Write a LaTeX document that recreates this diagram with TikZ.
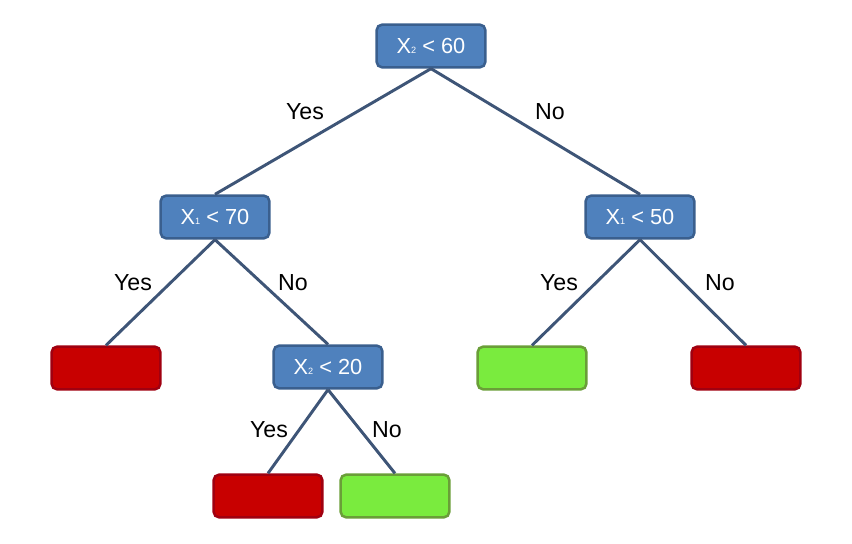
\documentclass[tikz,border=0pt]{standalone}
\usepackage{fontspec}
\setmainfont{Liberation Sans}
\usetikzlibrary{positioning}
\definecolor{kek}{HTML}{4F81BD}
\definecolor{kekkeret}{HTML}{3A5F8E}
\definecolor{piros}{HTML}{C80000}
\definecolor{piroskeret}{HTML}{A00010}
\definecolor{zold}{HTML}{7AEB3E}
\definecolor{zoldkeret}{HTML}{6A9E38}
\definecolor{vonal}{HTML}{3E5577}
\newcommand{\valt}[1]{X{\fontsize{6.5}{6.5}\selectfont\raisebox{-0.4pt}{#1}}}
\tikzset{
  doboz/.style={rounded corners=4pt,line width=1.8pt,minimum width=2.72cm,minimum height=1.07cm,inner sep=0pt},
  kerdes/.style={doboz,draw=kekkeret,fill=kek,text=white,font=\fontsize{15.5}{17}\selectfont},
  piroslap/.style={doboz,draw=piroskeret,fill=piros},
  zoldlap/.style={doboz,draw=zoldkeret,fill=zold},
  el/.style={draw=vonal,line width=2.1pt},
  cimke/.style={font=\fontsize{16.5}{18}\selectfont,inner sep=0pt},
}
\begin{document}
\begin{tikzpicture}
  \useasboundingbox (0,0) rectangle (21.3,13.6);
  % kerdesek
  \node[kerdes] (gy) at (10.775,12.45) {\valt{2} < 60};
  \node[kerdes] (a) at (5.375,8.175) {\valt{1} < 70};
  \node[kerdes] (b) at (16.0,8.175) {\valt{1} < 50};
  \node[kerdes] (c) at (8.2,4.425) {\valt{2} < 20};
  % levelek
  \node[piroslap] (l1) at (2.65,4.4) {};
  \node[zoldlap] (l2) at (13.3,4.4) {};
  \node[piroslap] (l3) at (18.65,4.4) {};
  \node[piroslap] (l4) at (6.7,1.2) {};
  \node[zoldlap] (l5) at (9.875,1.2) {};
  % elek
  \foreach \p/\q in {gy/a,gy/b,a/l1,a/c,b/l2,b/l3,c/l4,c/l5}
    \draw[el] (\p.south) -- (\q.north);
  % cimkek
  \foreach \x/\y/\t in {7.625/10.8/Yes,13.75/10.8/No,3.325/6.525/Yes,7.325/6.525/No,
      13.975/6.525/Yes,18.0/6.525/No,6.725/2.85/Yes,9.675/2.85/No}
    \node[cimke] at (\x,\y) {\t};
\end{tikzpicture}
\end{document}
